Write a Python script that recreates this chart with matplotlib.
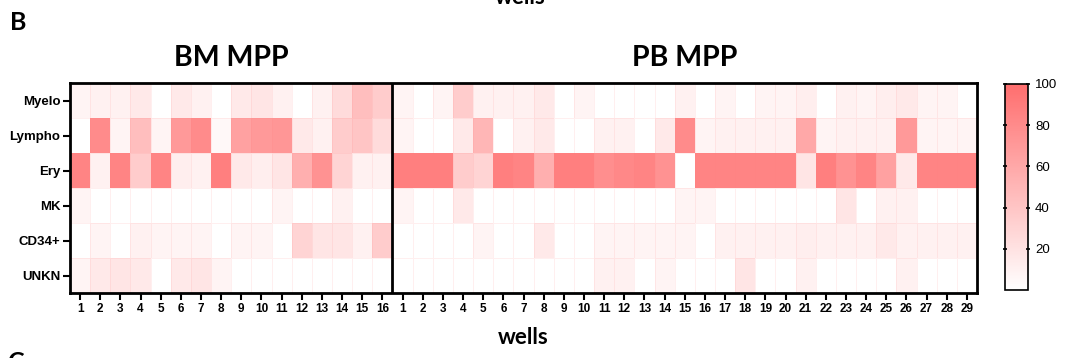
import numpy as np
import matplotlib
matplotlib.use("Agg")
import matplotlib.pyplot as plt
from matplotlib.colors import LinearSegmentedColormap

plt.rcParams['font.family'] = ['Liberation Sans', 'DejaVu Sans']

rows = ["Myelo", "Lympho", "Ery", "MK", "CD34+", "UNKN"]
bm_labels = [str(i) for i in range(1, 17)]
pb_labels = [str(i) for i in range(1, 30)]

bm_values = [
    [8, 10, 10, 15, 0, 15, 10, 0, 15, 18, 10, 0, 10, 25, 45, 35],
    [0, 80, 8, 45, 8, 70, 80, 5, 65, 70, 72, 15, 10, 35, 40, 25],
    [85, 10, 85, 35, 85, 12, 10, 88, 15, 12, 18, 55, 75, 30, 10, 10],
    [8, 0, 0, 0, 0, 0, 0, 0, 0, 0, 8, 0, 0, 10, 0, 0],
    [0, 8, 0, 10, 8, 8, 8, 0, 8, 8, 0, 30, 18, 18, 10, 35],
    [8, 15, 18, 15, 0, 15, 18, 8, 0, 0, 0, 0, 0, 0, 0, 0],
]
pb_values = [
    [8, 0, 8, 35, 10, 10, 10, 15, 0, 8, 0, 0, 0, 0, 10, 0, 8, 0, 8, 8, 12, 0, 10, 8, 12, 15, 8, 8, 0],
    [8, 0, 0, 15, 50, 0, 10, 15, 0, 0, 10, 10, 0, 15, 80, 8, 10, 10, 10, 10, 60, 8, 10, 10, 10, 70, 8, 8, 8],
    [88, 88, 88, 35, 30, 88, 85, 55, 88, 88, 78, 82, 85, 75, 0, 85, 85, 85, 85, 85, 18, 88, 75, 85, 65, 15, 85, 85, 85],
    [8, 0, 0, 15, 0, 0, 0, 0, 0, 0, 0, 0, 0, 0, 8, 8, 0, 0, 0, 0, 0, 0, 18, 0, 10, 10, 0, 0, 0],
    [0, 0, 0, 0, 8, 0, 0, 15, 0, 0, 8, 8, 8, 8, 8, 0, 10, 10, 10, 10, 12, 10, 10, 10, 15, 10, 10, 10, 10],
    [0, 0, 0, 0, 0, 0, 0, 0, 0, 0, 10, 10, 0, 8, 0, 0, 0, 18, 0, 0, 10, 0, 0, 0, 0, 10, 0, 0, 0],
]

data = np.hstack([np.array(bm_values, float), np.array(pb_values, float)])
xlabels = bm_labels + pb_labels
n_bm = len(bm_labels)
ncol = data.shape[1]

cmap = LinearSegmentedColormap.from_list("wr", ["#FFFFFF", "#FF6E6E"])
title_font = ['Lato', 'DejaVu Sans']

fig = plt.figure(figsize=(10.68, 3.58), dpi=100)
W, H = 1068, 358
ax = fig.add_axes([70 / W, 1 - 293 / H, (977 - 70) / W, (293 - 83) / H])
mesh = ax.pcolormesh(np.arange(ncol + 1) - 0.5, np.arange(len(rows) + 1) - 0.5, data,
                     cmap=cmap, vmin=0, vmax=100, edgecolors=(1, 0.5, 0.5, 0.12), linewidth=0.5)
ax.set_xlim(-0.5, ncol - 0.5)
ax.set_ylim(len(rows) - 0.5, -0.5)
ax.axvline(n_bm - 0.5, color='black', lw=2)
for s in ax.spines.values():
    s.set_linewidth(2)

ax.set_yticks(range(len(rows)))
ax.set_yticklabels(rows, fontsize=9.5, fontweight='bold')
ax.set_xticks(range(ncol))
ax.set_xticklabels(xlabels, fontsize=8.5, fontweight='bold')
ax.tick_params(axis='both', length=5, width=1.5, direction='out', pad=2)
ax.set_xlabel("wells", fontsize=16, fontweight='bold', labelpad=9, family=title_font)

# group titles
ax.text((n_bm - 1) / 2, -0.85, "BM MPP", ha='center', va='bottom', fontsize=20.5,
        fontweight='bold', family=title_font)
ax.text(n_bm + (ncol - n_bm - 1) / 2, -0.85, "PB MPP", ha='center', va='bottom', fontsize=20.5,
        fontweight='bold', family=title_font)

fig.text(10 / W, 1 - 22 / H, "B", fontsize=18, fontweight='bold', va='center', ha='left', family=title_font)
fig.text(520 / W, 1 + 3 / H, "wells", fontsize=16, fontweight='bold', va='center', ha='center', family=title_font)
fig.text(8 / W, 1 - 362 / H, "C", fontsize=18, fontweight='bold', va='center', ha='left', family=title_font)

cax = fig.add_axes([1005 / W, 1 - 290 / H, 23 / W, (290 - 84) / H])
cb = fig.colorbar(mesh, cax=cax, ticks=[20, 40, 60, 80, 100])
cb.outline.set_linewidth(1.2)
cb.ax.tick_params(labelsize=9.5, length=3, width=1.2, direction='inout')
cb.ax.yaxis.set_ticks_position('both')
cb.ax.tick_params(labelleft=False, labelright=True)

fig.savefig("out.png", dpi=100)
